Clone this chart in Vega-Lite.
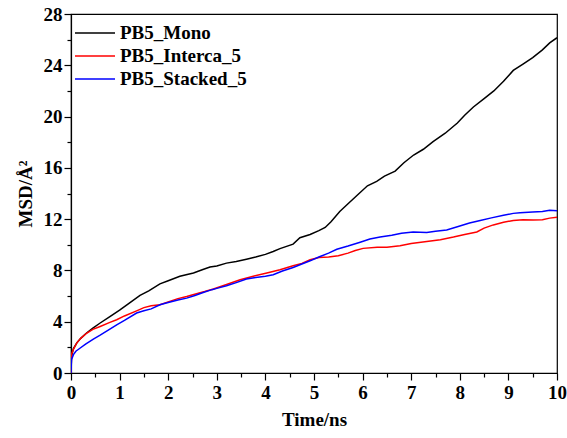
{
  "$schema": "https://vega.github.io/schema/vega-lite/v6.json",
  "autosize": "none",
  "width": 486,
  "height": 359,
  "padding": {"left": 71, "top": 14, "right": 10, "bottom": 65},
  "background": "white",
  "config": {
    "font": "Liberation Serif",
    "view": {"stroke": "black", "strokeWidth": 1.2},
    "axis": {"labelFont": "Liberation Serif", "titleFont": "Liberation Serif", "labelFontWeight": "bold", "titleFontWeight": "bold", "labelFontSize": 19, "titleFontSize": 19, "labelColor": "black", "titleColor": "black", "domainColor": "black", "tickColor": "black", "grid": false}
  },
  "data": {"values": [
    {"t":0,"msd":0,"s":"PB5_Mono"},{"t":0.01,"msd":1.3,"s":"PB5_Mono"},{"t":0.05,"msd":1.9,"s":"PB5_Mono"},{"t":0.12,"msd":2.35,"s":"PB5_Mono"},{"t":0.2,"msd":2.7,"s":"PB5_Mono"},{"t":0.32,"msd":3.12,"s":"PB5_Mono"},{"t":0.45,"msd":3.5,"s":"PB5_Mono"},{"t":0.6,"msd":3.9,"s":"PB5_Mono"},{"t":0.8,"msd":4.4,"s":"PB5_Mono"},{"t":1.0,"msd":4.9,"s":"PB5_Mono"},{"t":1.2,"msd":5.45,"s":"PB5_Mono"},{"t":1.42,"msd":6.05,"s":"PB5_Mono"},{"t":1.6,"msd":6.4,"s":"PB5_Mono"},{"t":1.83,"msd":6.95,"s":"PB5_Mono"},{"t":2.0,"msd":7.2,"s":"PB5_Mono"},{"t":2.24,"msd":7.55,"s":"PB5_Mono"},{"t":2.52,"msd":7.8,"s":"PB5_Mono"},{"t":2.7,"msd":8.05,"s":"PB5_Mono"},{"t":2.86,"msd":8.26,"s":"PB5_Mono"},{"t":3.0,"msd":8.35,"s":"PB5_Mono"},{"t":3.2,"msd":8.57,"s":"PB5_Mono"},{"t":3.4,"msd":8.7,"s":"PB5_Mono"},{"t":3.61,"msd":8.88,"s":"PB5_Mono"},{"t":3.8,"msd":9.05,"s":"PB5_Mono"},{"t":4.0,"msd":9.25,"s":"PB5_Mono"},{"t":4.16,"msd":9.48,"s":"PB5_Mono"},{"t":4.3,"msd":9.7,"s":"PB5_Mono"},{"t":4.57,"msd":10.05,"s":"PB5_Mono"},{"t":4.71,"msd":10.55,"s":"PB5_Mono"},{"t":4.92,"msd":10.8,"s":"PB5_Mono"},{"t":5.1,"msd":11.1,"s":"PB5_Mono"},{"t":5.23,"msd":11.35,"s":"PB5_Mono"},{"t":5.35,"msd":11.8,"s":"PB5_Mono"},{"t":5.53,"msd":12.6,"s":"PB5_Mono"},{"t":5.7,"msd":13.2,"s":"PB5_Mono"},{"t":5.9,"msd":13.9,"s":"PB5_Mono"},{"t":6.1,"msd":14.6,"s":"PB5_Mono"},{"t":6.29,"msd":14.95,"s":"PB5_Mono"},{"t":6.45,"msd":15.35,"s":"PB5_Mono"},{"t":6.67,"msd":15.75,"s":"PB5_Mono"},{"t":6.85,"msd":16.4,"s":"PB5_Mono"},{"t":7.05,"msd":17.0,"s":"PB5_Mono"},{"t":7.25,"msd":17.45,"s":"PB5_Mono"},{"t":7.45,"msd":18.05,"s":"PB5_Mono"},{"t":7.7,"msd":18.7,"s":"PB5_Mono"},{"t":7.95,"msd":19.5,"s":"PB5_Mono"},{"t":8.1,"msd":20.1,"s":"PB5_Mono"},{"t":8.28,"msd":20.75,"s":"PB5_Mono"},{"t":8.5,"msd":21.4,"s":"PB5_Mono"},{"t":8.7,"msd":22.0,"s":"PB5_Mono"},{"t":8.9,"msd":22.75,"s":"PB5_Mono"},{"t":9.1,"msd":23.6,"s":"PB5_Mono"},{"t":9.3,"msd":24.1,"s":"PB5_Mono"},{"t":9.5,"msd":24.6,"s":"PB5_Mono"},{"t":9.7,"msd":25.2,"s":"PB5_Mono"},{"t":9.85,"msd":25.75,"s":"PB5_Mono"},{"t":10.0,"msd":26.15,"s":"PB5_Mono"},
    {"t":0,"msd":0,"s":"PB5_Interca_5"},{"t":0.01,"msd":1.45,"s":"PB5_Interca_5"},{"t":0.05,"msd":1.85,"s":"PB5_Interca_5"},{"t":0.12,"msd":2.35,"s":"PB5_Interca_5"},{"t":0.2,"msd":2.7,"s":"PB5_Interca_5"},{"t":0.32,"msd":3.1,"s":"PB5_Interca_5"},{"t":0.45,"msd":3.4,"s":"PB5_Interca_5"},{"t":0.6,"msd":3.63,"s":"PB5_Interca_5"},{"t":0.8,"msd":3.95,"s":"PB5_Interca_5"},{"t":0.94,"msd":4.15,"s":"PB5_Interca_5"},{"t":1.1,"msd":4.45,"s":"PB5_Interca_5"},{"t":1.35,"msd":4.85,"s":"PB5_Interca_5"},{"t":1.5,"msd":5.1,"s":"PB5_Interca_5"},{"t":1.65,"msd":5.25,"s":"PB5_Interca_5"},{"t":1.83,"msd":5.32,"s":"PB5_Interca_5"},{"t":2.0,"msd":5.55,"s":"PB5_Interca_5"},{"t":2.2,"msd":5.8,"s":"PB5_Interca_5"},{"t":2.38,"msd":5.97,"s":"PB5_Interca_5"},{"t":2.6,"msd":6.2,"s":"PB5_Interca_5"},{"t":2.75,"msd":6.35,"s":"PB5_Interca_5"},{"t":2.93,"msd":6.55,"s":"PB5_Interca_5"},{"t":3.2,"msd":6.9,"s":"PB5_Interca_5"},{"t":3.48,"msd":7.27,"s":"PB5_Interca_5"},{"t":3.75,"msd":7.55,"s":"PB5_Interca_5"},{"t":4.03,"msd":7.8,"s":"PB5_Interca_5"},{"t":4.3,"msd":8.05,"s":"PB5_Interca_5"},{"t":4.57,"msd":8.36,"s":"PB5_Interca_5"},{"t":4.75,"msd":8.55,"s":"PB5_Interca_5"},{"t":4.92,"msd":8.83,"s":"PB5_Interca_5"},{"t":5.1,"msd":9.0,"s":"PB5_Interca_5"},{"t":5.3,"msd":9.05,"s":"PB5_Interca_5"},{"t":5.5,"msd":9.15,"s":"PB5_Interca_5"},{"t":5.7,"msd":9.35,"s":"PB5_Interca_5"},{"t":5.85,"msd":9.55,"s":"PB5_Interca_5"},{"t":6.01,"msd":9.72,"s":"PB5_Interca_5"},{"t":6.3,"msd":9.8,"s":"PB5_Interca_5"},{"t":6.5,"msd":9.8,"s":"PB5_Interca_5"},{"t":6.77,"msd":9.93,"s":"PB5_Interca_5"},{"t":7.0,"msd":10.1,"s":"PB5_Interca_5"},{"t":7.32,"msd":10.25,"s":"PB5_Interca_5"},{"t":7.6,"msd":10.4,"s":"PB5_Interca_5"},{"t":7.87,"msd":10.6,"s":"PB5_Interca_5"},{"t":8.1,"msd":10.8,"s":"PB5_Interca_5"},{"t":8.35,"msd":11.0,"s":"PB5_Interca_5"},{"t":8.5,"msd":11.3,"s":"PB5_Interca_5"},{"t":8.69,"msd":11.55,"s":"PB5_Interca_5"},{"t":8.9,"msd":11.75,"s":"PB5_Interca_5"},{"t":9.1,"msd":11.9,"s":"PB5_Interca_5"},{"t":9.3,"msd":11.95,"s":"PB5_Interca_5"},{"t":9.51,"msd":11.93,"s":"PB5_Interca_5"},{"t":9.7,"msd":11.95,"s":"PB5_Interca_5"},{"t":9.85,"msd":12.08,"s":"PB5_Interca_5"},{"t":10.0,"msd":12.15,"s":"PB5_Interca_5"},
    {"t":0,"msd":0,"s":"PB5_Stacked_5"},{"t":0.01,"msd":1.04,"s":"PB5_Stacked_5"},{"t":0.05,"msd":1.43,"s":"PB5_Stacked_5"},{"t":0.1,"msd":1.7,"s":"PB5_Stacked_5"},{"t":0.19,"msd":1.95,"s":"PB5_Stacked_5"},{"t":0.3,"msd":2.25,"s":"PB5_Stacked_5"},{"t":0.46,"msd":2.65,"s":"PB5_Stacked_5"},{"t":0.6,"msd":2.95,"s":"PB5_Stacked_5"},{"t":0.75,"msd":3.3,"s":"PB5_Stacked_5"},{"t":0.94,"msd":3.76,"s":"PB5_Stacked_5"},{"t":1.1,"msd":4.1,"s":"PB5_Stacked_5"},{"t":1.35,"msd":4.68,"s":"PB5_Stacked_5"},{"t":1.5,"msd":4.85,"s":"PB5_Stacked_5"},{"t":1.65,"msd":5.0,"s":"PB5_Stacked_5"},{"t":1.83,"msd":5.32,"s":"PB5_Stacked_5"},{"t":2.0,"msd":5.5,"s":"PB5_Stacked_5"},{"t":2.2,"msd":5.7,"s":"PB5_Stacked_5"},{"t":2.38,"msd":5.84,"s":"PB5_Stacked_5"},{"t":2.55,"msd":6.05,"s":"PB5_Stacked_5"},{"t":2.72,"msd":6.28,"s":"PB5_Stacked_5"},{"t":2.9,"msd":6.5,"s":"PB5_Stacked_5"},{"t":3.0,"msd":6.6,"s":"PB5_Stacked_5"},{"t":3.2,"msd":6.8,"s":"PB5_Stacked_5"},{"t":3.4,"msd":7.05,"s":"PB5_Stacked_5"},{"t":3.61,"msd":7.33,"s":"PB5_Stacked_5"},{"t":3.8,"msd":7.45,"s":"PB5_Stacked_5"},{"t":4.0,"msd":7.55,"s":"PB5_Stacked_5"},{"t":4.16,"msd":7.66,"s":"PB5_Stacked_5"},{"t":4.35,"msd":7.95,"s":"PB5_Stacked_5"},{"t":4.57,"msd":8.23,"s":"PB5_Stacked_5"},{"t":4.75,"msd":8.5,"s":"PB5_Stacked_5"},{"t":4.92,"msd":8.75,"s":"PB5_Stacked_5"},{"t":5.1,"msd":9.05,"s":"PB5_Stacked_5"},{"t":5.3,"msd":9.35,"s":"PB5_Stacked_5"},{"t":5.47,"msd":9.65,"s":"PB5_Stacked_5"},{"t":5.7,"msd":9.9,"s":"PB5_Stacked_5"},{"t":5.95,"msd":10.2,"s":"PB5_Stacked_5"},{"t":6.15,"msd":10.45,"s":"PB5_Stacked_5"},{"t":6.36,"msd":10.6,"s":"PB5_Stacked_5"},{"t":6.6,"msd":10.75,"s":"PB5_Stacked_5"},{"t":6.8,"msd":10.9,"s":"PB5_Stacked_5"},{"t":7.04,"msd":11.0,"s":"PB5_Stacked_5"},{"t":7.32,"msd":10.95,"s":"PB5_Stacked_5"},{"t":7.5,"msd":11.05,"s":"PB5_Stacked_5"},{"t":7.73,"msd":11.15,"s":"PB5_Stacked_5"},{"t":7.95,"msd":11.4,"s":"PB5_Stacked_5"},{"t":8.2,"msd":11.7,"s":"PB5_Stacked_5"},{"t":8.42,"msd":11.9,"s":"PB5_Stacked_5"},{"t":8.65,"msd":12.1,"s":"PB5_Stacked_5"},{"t":8.9,"msd":12.3,"s":"PB5_Stacked_5"},{"t":9.1,"msd":12.45,"s":"PB5_Stacked_5"},{"t":9.24,"msd":12.5,"s":"PB5_Stacked_5"},{"t":9.5,"msd":12.55,"s":"PB5_Stacked_5"},{"t":9.7,"msd":12.6,"s":"PB5_Stacked_5"},{"t":9.85,"msd":12.7,"s":"PB5_Stacked_5"},{"t":10.0,"msd":12.66,"s":"PB5_Stacked_5"}
  ]},
  "mark": {"type": "line", "strokeWidth": 1.5, "clip": true},
  "encoding": {
    "x": {"field": "t", "type": "quantitative", "scale": {"domain": [0, 10], "nice": false},
      "axis": {"orient": "bottom", "title": "Time/ns", "values": [0,0.5,1,1.5,2,2.5,3,3.5,4,4.5,5,5.5,6,6.5,7,7.5,8,8.5,9,9.5,10],
        "labelExpr": "datum.value % 1 === 0 ? format(datum.value, 'd') : ''",
        "tickSize": {"condition": {"test": "datum.value % 1 === 0", "value": 7}, "value": 4},
        "tickWidth": 1.2, "domainWidth": 1.2, "labelPadding": 3, "titlePadding": 8, "labelFlush": false, "labelOverlap": false}},
    "y": {"field": "msd", "type": "quantitative", "scale": {"domain": [0, 28], "nice": false},
      "axis": {"orient": "left", "title": "MSD/Å²", "values": [0,2,4,6,8,10,12,14,16,18,20,22,24,26,28],
        "labelExpr": "datum.value % 4 === 0 ? format(datum.value, 'd') : ''",
        "tickSize": {"condition": {"test": "datum.value % 4 === 0", "value": 7}, "value": 4},
        "tickWidth": 1.2, "domainWidth": 1.2, "labelPadding": 2, "titlePadding": 8, "labelFlush": false, "labelOverlap": false}},
    "color": {"field": "s", "type": "nominal", "sort": ["PB5_Mono", "PB5_Interca_5", "PB5_Stacked_5"],
      "scale": {"domain": ["PB5_Mono", "PB5_Interca_5", "PB5_Stacked_5"], "range": ["#000000", "#ff0000", "#0000ff"]},
      "legend": {"orient": "none", "legendX": 13, "legendY": 8, "title": null, "symbolType": "M-2,0H2", "symbolSize": 400, "symbolStrokeWidth": 1.5, "symbolFillColor": "transparent", "labelFont": "Liberation Serif", "labelFontWeight": "bold", "labelFontSize": 19, "labelColor": "black", "labelOffset": 14, "rowPadding": 2, "padding": 0}}
  }
}
